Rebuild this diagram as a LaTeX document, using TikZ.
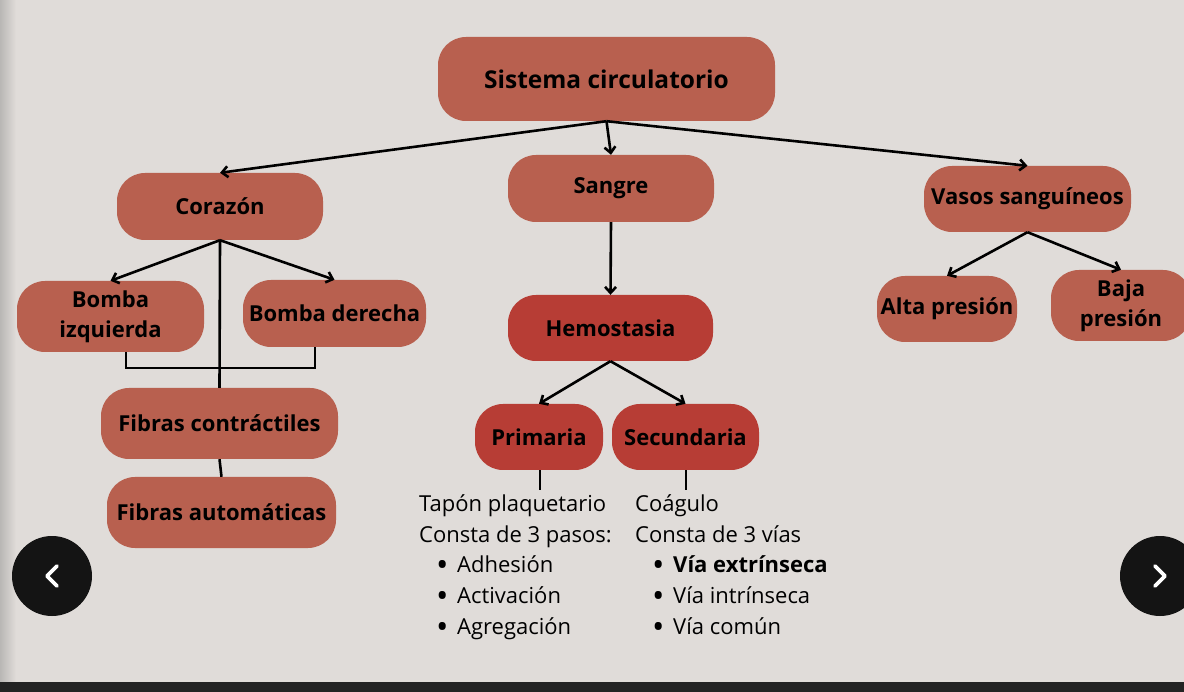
\documentclass[tikz,border=0pt]{standalone}
\usepackage{fontspec}
\setmainfont{Open Sans}
\usetikzlibrary{arrows.meta,calc}
\definecolor{bgc}{HTML}{E0DCD9}
\definecolor{nodelight}{HTML}{B8604F}
\definecolor{nodedark}{HTML}{B73D35}
\definecolor{btnc}{HTML}{141414}
\definecolor{barc}{HTML}{232323}
\definecolor{edgec}{HTML}{B9B7B5}
\tikzset{
  box/.style={rectangle, rounded corners=28pt, fill=nodelight, text=black,
    font=\fontsize{22}{30}\selectfont\bfseries, align=center, inner sep=0pt},
  boxdark/.style={box, fill=nodedark},
  conn/.style={line width=2.6pt, draw=black},
  arr/.style={conn, -{Straight Barb[length=6pt,width=11pt,line width=2.6pt]}},
  listtext/.style={font=\fontsize{22}{30.8}\selectfont, align=left, inner sep=0pt, anchor=base west},
  navbtn/.style={circle, fill=btnc, minimum size=80pt, inner sep=0pt},
  chev/.style={draw=white, line width=3.6pt, line cap=round, line join=round}
}
\newcommand{\blt}[1]{\hspace*{17pt}\makebox[21pt][l]{\raisebox{-4pt}{\scalebox{1.5}{•}}}#1}
\begin{document}
\begin{tikzpicture}[x=1pt,y=-1pt]
\useasboundingbox (0,0) rectangle (1184,692);
\fill[bgc] (0,0) rectangle (1184,692);
\shade[left color=edgec, right color=bgc] (0,0) rectangle (16,682);
\begin{scope}
\clip (0,0) rectangle (1184,692);
% nodes
\node[box, minimum width=337pt, minimum height=84pt, font=\fontsize{24.5}{28}\selectfont\bfseries] (sys) at (606.5,79) {Sistema circulatorio};
\node[box, minimum width=206pt, minimum height=67pt] (sangre) at (611,188.5) {Sangre};
\node[box, minimum width=206pt, minimum height=67pt] (corazon) at (220,206.5) {Corazón};
\node[box, minimum width=207pt, minimum height=66pt] (vasos) at (1027.5,199) {Vasos sanguíneos};
\node[box, minimum width=187pt, minimum height=71pt] (bizq) at (110.5,316.5) {Bomba\\izquierda};
\node[box, minimum width=183pt, minimum height=67pt] (bder) at (334.5,313.5) {Bomba derecha};
\node[box, minimum width=237pt, minimum height=71pt] (fcon) at (219.5,423.5) {Fibras contráctiles};
\node[box, minimum width=229pt, minimum height=71pt] (faut) at (221.5,512.5) {Fibras automáticas};
\node[boxdark, minimum width=205pt, minimum height=66pt] (hemo) at (610.5,328) {Hemostasia};
\node[boxdark, minimum width=128pt, minimum height=66pt] (prim) at (539,437) {Primaria};
\node[boxdark, minimum width=147pt, minimum height=66pt] (sec) at (685.5,437) {Secundaria};
\node[box, minimum width=140pt, minimum height=66pt] (alta) at (947,309) {Alta presión};
\node[box, minimum width=140pt, minimum height=71pt] (baja) at (1121,305.5) {Baja\\presión};
% connectors
\draw[arr] (sys.south) -- (corazon.north);
\draw[arr] (sys.south) -- (sangre.north);
\draw[arr] (sys.south) -- (vasos.north);
\draw[arr] (sangre.south) -- (hemo.north);
\draw[arr] (corazon.south) -- (bizq.north);
\draw[arr] (corazon.south) -- (bder.north);
\draw[conn] (corazon.south) -- (fcon.north);
\draw[conn] ([xshift=15.5pt]bizq.south) -- ++(0,16) -| ([xshift=-19.5pt]bder.south);
\draw[conn] (fcon.south) -- (faut.north);
\draw[arr] (hemo.south) -- (prim.north);
\draw[arr] (hemo.south) -- (sec.north);
\draw[arr] (vasos.south) -- (alta.north);
\draw[arr] (vasos.south) -- (baja.north);
\coordinate (primend) at (540,490);
\coordinate (secend) at (686,490);
\draw[conn] (prim.south -| primend) -- (primend);
\draw[conn] (sec.south -| secend) -- (secend);
% lists
\node[listtext] (primtxt) at (419,634.5) {Tapón plaquetario\\Consta de 3 pasos:\\\blt{Adhesión}\\\blt{Activación}\\\blt{Agregación}};
\node[listtext] (sectxt) at (635,634.5) {Coágulo\\Consta de 3 vías\\\blt{\textbf{Vía extrínseca}}\\\blt{Vía intrínseca}\\\blt{Vía común}};
% nav buttons
\node[navbtn] (prevbtn) at (52,576) {};
\node[navbtn] (nextbtn) at (1160,576) {};
\draw[chev] ([shift={(5,-10)}]prevbtn.center) -- ([shift={(-5,0)}]prevbtn.center) -- ([shift={(5,10)}]prevbtn.center);
\draw[chev] ([shift={(-5,-10)}]nextbtn.center) -- ([shift={(5,0)}]nextbtn.center) -- ([shift={(-5,10)}]nextbtn.center);
% bottom bar
\fill[barc] (0,682) rectangle (1184,692);
\end{scope}
\end{tikzpicture}
\end{document}
